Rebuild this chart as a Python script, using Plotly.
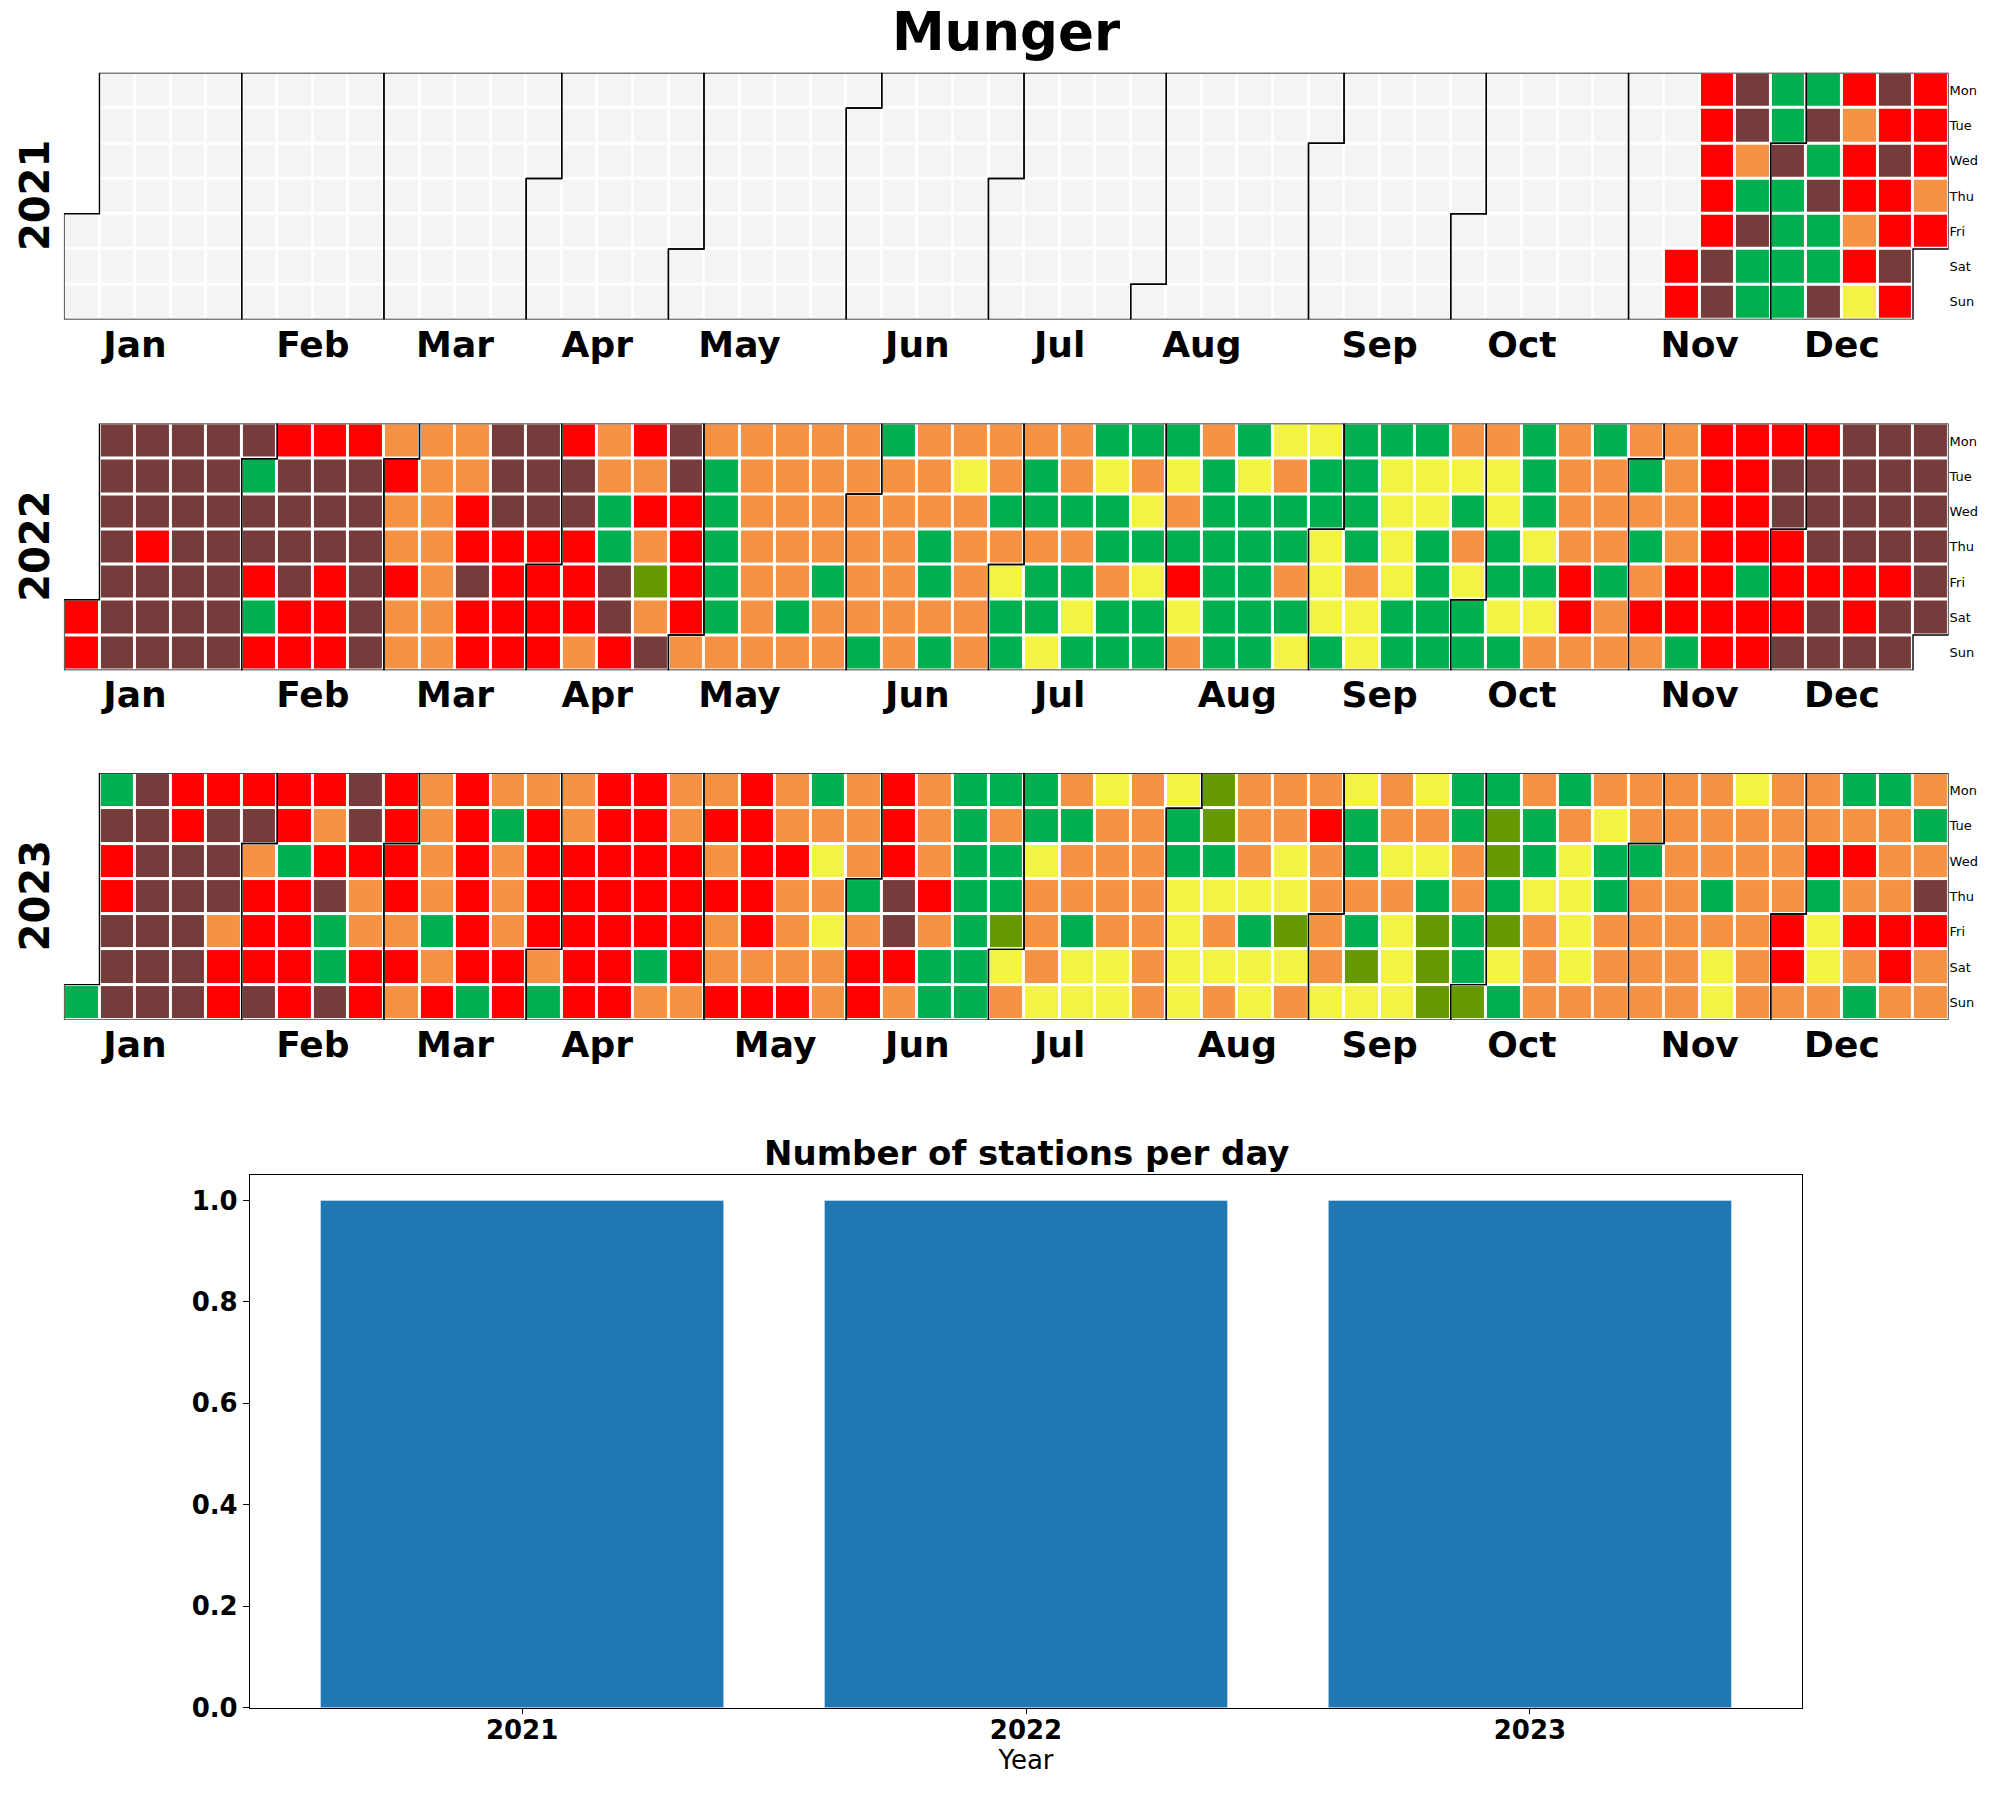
import pandas as pd
import plotly.graph_objects as go

# ===== DATA =====
# daily AQI category codes, one string per calendar week (Mon..Sun),
# starting from the first day that has a reading
# G good, D satisfactory, Y moderate, O poor, R very poor, M severe
years = [2021, 2022, 2023]
first_day = {2021: "2021-11-13", 2022: "2022-01-01", 2023: "2023-01-01"}

aqi_2021 = ["RR", "RRRRRMM", "MMOGMGG", "GGMGGGG", "GMGMGGM", "RORRORY",
            "MRMRRMR", "RRROR"]

aqi_2022 = ["RR", "MMMMMMM", "MMMRMMM", "MMMMMMM", "MMMMMMM", "MGMMRGR",
            "RMMMMRR", "RMMMRRR", "RMMMMMM", "OROOROO", "OOOOOOO", "OORRMRR",
            "MMMRRRR", "MMMRRRR", "RMMRRRO", "OOGGMMR", "RORODOM", "MMRRRRO",
            "OGGGGGO", "OOOOOOO", "OOOOOGO", "OOOOGOO", "OOOOOOG", "GOOOOOO",
            "OOOGGOG", "OYOOOOO", "OOGOYGG", "OGGOGGY", "OOGOGYG", "GYGGOGG",
            "GOYGYGG", "GYOGRYO", "OGGGGGG", "GYGGGGG", "YOGGOGY", "YGGYYYG",
            "GGGGOYY", "GYYYYGG", "GYYGGGG", "OYGOYGG", "OYYGGYG", "GGGYGYO",
            "OOOORRO", "GOOOGOO", "OGOGORO", "OOOORRG", "RRRRRRR", "RRRRGRR",
            "RMMRRRM", "RMMMRMM", "MMMMRRM", "MMMMRMM", "MMMMMM"]

aqi_2023 = ["G", "GMRRMMM", "MMMMMMM", "RRMMMMM", "RMMMORR", "RMORRRM",
            "RRGRRRR", "RORMGGM", "MMROORR", "RRRRORO", "OOOOGOR", "RRRRRRG",
            "OGOOORR", "ORRRROG", "OORRRRR", "RRRRRRR", "RRRRRGO", "OORRRRO",
            "OROROOR", "RRRRROR", "OOROOOR", "GOYOYOO", "OOOGORR", "RRRMMRO",
            "OOOROGG", "GGGGGGG", "GOGGDYO", "GGYOOOY", "OGOOGYY", "YOOOOYY",
            "OOOOOOO", "YGGYYYY", "DDGYOYO", "OOOYGYY", "OOYYDYO", "OROOOOY",
            "YGGOGDY", "OOYOYYY", "YOYGDDD", "GGOOGGD", "GDDGDYG", "OGGYOOO",
            "GOYYYYO", "OYGGOOO", "OOGOOOO", "OOOOOOO", "OOOGOYY", "YOOOOOO",
            "OOOORRO", "OORGYYO", "GOROROG", "GOOORRO", "OGOMROO"]

aqi_weeks = {2021: aqi_2021, 2022: aqi_2022, 2023: aqi_2023}

bar_years = ["2021", "2022", "2023"]
stations_per_day = [1, 1, 1]

codes = ["N", "G", "D", "Y", "O", "R", "M"]
code_colors = ["#f4f4f4", "#00b050", "#669900", "#f3f344", "#f59244",
               "#ff0000", "#763c3b"]
month_names = ["Jan", "Feb", "Mar", "Apr", "May", "Jun",
               "Jul", "Aug", "Sep", "Oct", "Nov", "Dec"]
weekday_names = ["Mon", "Tue", "Wed", "Thu", "Fri", "Sat", "Sun"]

# ===== LAYOUT CONSTANTS (pixels) =====
W, H = 2000, 1801
cell = 35.56
grid_left = 63.9
cal_tops = [73.3, 427.0, 779.5]
FONT = "DejaVu Sans"


def week_of(d):
    jan1 = pd.Timestamp(year=d.year, month=1, day=1)
    return (d.dayofyear - 1 + jan1.weekday()) // 7


def year_grid(year):
    z = [[None] * 53 for _ in range(7)]
    for d in pd.date_range(f"{year}-01-01", f"{year}-12-31"):
        z[d.weekday()][week_of(d)] = 0
    seq = "".join(aqi_weeks[year])
    for d, c in zip(pd.date_range(first_day[year], periods=len(seq)), seq):
        z[d.weekday()][week_of(d)] = codes.index(c)
    return z


def month_outlines(year):
    xs, ys, ticks = [], [], []
    for m in range(1, 13):
        first = pd.Timestamp(year=year, month=m, day=1)
        last = first + pd.offsets.MonthEnd(0)
        w1, d1 = week_of(first), first.weekday()
        w2, d2 = week_of(last), last.weekday()
        xs += [w1 - 0.5, w1 + 0.5, w1 + 0.5, w2 + 0.5, w2 + 0.5,
               w2 - 0.5, w2 - 0.5, w1 - 0.5, w1 - 0.5, None]
        ys += [d1 - 0.5, d1 - 0.5, -0.5, -0.5, d2 + 0.5,
               d2 + 0.5, 6.5, 6.5, d1 - 0.5, None]
        ticks.append(w1 + 1.5)
    return xs, ys, ticks


n = len(codes)
colorscale = []
for i, c in enumerate(code_colors):
    colorscale.append([i / n, c])
    colorscale.append([(i + 1) / n, c])

fig = go.Figure()
layout = {}

x_dom = [grid_left / W, (grid_left + 53 * cell) / W]

for i, year in enumerate(years):
    k = "" if i == 0 else str(i + 1)
    top = cal_tops[i]
    bottom = top + 7 * cell

    fig.add_trace(go.Heatmap(
        z=year_grid(year), x=list(range(53)), y=list(range(7)),
        colorscale=colorscale, zmin=-0.5, zmax=n - 0.5,
        xgap=3, ygap=3, showscale=False, hoverinfo="skip",
        xaxis="x" + k, yaxis="y" + k,
    ))

    ox, oy, tick_pos = month_outlines(year)
    fig.add_trace(go.Scatter(
        x=ox, y=oy, mode="lines", line=dict(color="black", width=1.4),
        hoverinfo="skip", showlegend=False, xaxis="x" + k, yaxis="y" + k,
    ))

    layout["xaxis" + k] = dict(
        domain=x_dom, range=[-0.5, 52.5], anchor="y" + k,
        showgrid=False, zeroline=False, showline=False, ticks="",
        tickvals=tick_pos, ticktext=month_names,
        tickfont=dict(family=FONT, size=36, color="black", weight="bold"),
    )
    layout["yaxis" + k] = dict(
        domain=[1 - bottom / H, 1 - top / H], range=[6.5, -0.5],
        anchor="x" + k, side="right",
        showgrid=False, zeroline=False, showline=False, ticks="",
        tickvals=list(range(7)), ticktext=weekday_names,
        tickfont=dict(family=FONT, size=13, color="black"),
    )

    # year label on the left
    fig.add_annotation(
        x=35 / W, y=1 - (top + bottom) / 2 / H, xref="paper", yref="paper",
        xanchor="center", yanchor="middle",
        text=str(year), textangle=-90, showarrow=False,
        font=dict(family=FONT, size=40, color="black", weight="bold"),
    )

# ===== STATIONS BAR CHART =====
fig.add_trace(go.Bar(
    x=bar_years, y=stations_per_day, width=0.8, marker_color="#1f77b4",
    xaxis="x4", yaxis="y4", showlegend=False,
))

layout["xaxis4"] = dict(
    domain=[250 / W, 1802 / W], range=[-0.54, 2.54], anchor="y4",
    type="category", showgrid=False, zeroline=False,
    showline=True, mirror=True, linecolor="black", linewidth=1.2,
    ticks="outside", ticklen=5, tickwidth=1.2, tickcolor="black",
    ticklabelstandoff=-6,
    tickfont=dict(family=FONT, size=26, color="black", weight="bold"),
    title=dict(text="Year", font=dict(family=FONT, size=26, color="black"),
               standoff=6),
)
layout["yaxis4"] = dict(
    domain=[1 - 1722 / H, 1 - 1185 / H], range=[0, 1.05], anchor="x4",
    showgrid=False, zeroline=False,
    showline=True, mirror=True, linecolor="black", linewidth=1.2,
    ticks="outside", ticklen=6, tickwidth=1.2, tickcolor="black",
    tickvals=[0, 0.2, 0.4, 0.6, 0.8, 1.0], tickformat=".1f",
    tickfont=dict(family=FONT, size=26, color="black", weight="bold"),
)

fig.add_annotation(
    x=1026 / W, y=1 - 1163 / H, xref="paper", yref="paper",
    xanchor="center", yanchor="middle",
    text="Number of stations per day", showarrow=False,
    font=dict(family=FONT, size=34, color="black", weight="bold"),
)

fig.update_layout(
    **layout,
    width=W, height=H,
    margin=dict(l=0, r=0, t=0, b=0),
    paper_bgcolor="white", plot_bgcolor="white",
    showlegend=False,
    title=dict(text="Munger", x=1006 / W, xanchor="center",
               y=1 - 31 / H, yanchor="middle",
               font=dict(family=FONT, size=53, color="black", weight="bold")),
)

fig.write_html("out.html", config={"displayModeBar": False},
               post_script="document.body.style.margin='0';")
